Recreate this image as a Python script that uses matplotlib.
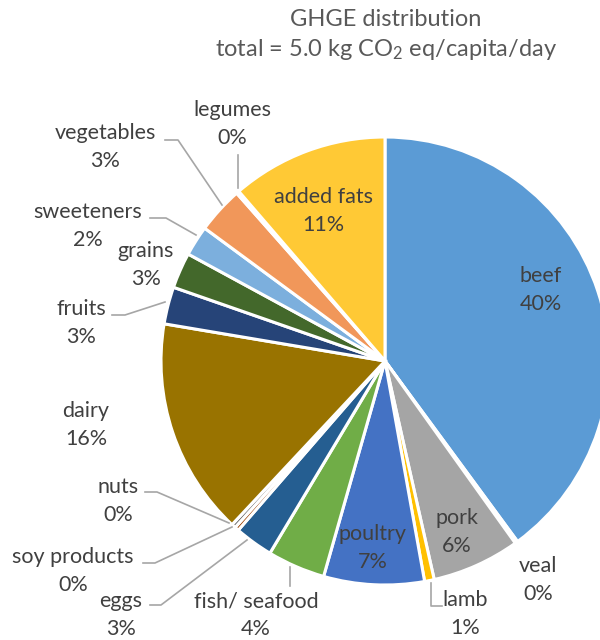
import matplotlib.pyplot as plt

plt.rcParams['font.family'] = ['Lato', 'DejaVu Sans']
plt.rcParams['mathtext.fontset'] = 'custom'
plt.rcParams['mathtext.rm'] = 'Lato'
plt.rcParams['mathtext.it'] = 'Lato:italic'

# Share of GHGE per food group (%), clockwise from 12 o'clock
foods = ['beef', 'veal', 'pork', 'lamb', 'poultry', 'fish/ seafood', 'eggs',
         'soy products', 'nuts', 'dairy', 'fruits', 'grains', 'sweeteners',
         'vegetables', 'legumes', 'added fats']
shares = [40.2, 0.2, 6.4, 0.7, 7.3, 4.2, 2.8, 0.3, 0.3, 15.8, 2.7, 2.6, 2.2,
          3.4, 0.2, 11.4]
colors = ['#5B9BD5', '#ED7D31', '#A5A5A5', '#FFC000', '#4472C4', '#70AD47',
          '#255E91', '#9E480E', '#636363', '#997300', '#264478', '#43682B',
          '#7CAFDD', '#F1975A', '#B7B7B7', '#FFC935']

H = 640  # figure height in px, used to flip pixel y

# label centre (px) and optional leader line points (px)
label_pos = {
    'beef': (541, 290), 'veal': (538, 580), 'pork': (457, 532),
    'lamb': (465, 614), 'poultry': (373, 548), 'fish/ seafood': (256, 615),
    'eggs': (121, 615), 'soy products': (73, 571), 'nuts': (118, 501),
    'dairy': (86, 425), 'fruits': (81, 323), 'grains': (146, 265),
    'sweeteners': (88, 226), 'vegetables': (105, 147), 'legumes': (232, 124),
    'added fats': (323, 211),
}
leaders = {
    'lamb': [(431, 583), (431, 606), (442, 606)],
    'fish/ seafood': [(290, 567), (290, 586)],
    'eggs': [(150, 605), (161, 605), (247, 540)],
    'soy products': [(143, 563), (155, 563), (232, 527)],
    'nuts': [(145, 492), (157, 492), (229, 523)],
    'fruits': [(112, 315), (125, 315), (165, 302)],
    'sweeteners': [(150, 218), (166, 218), (196, 235)],
    'vegetables': [(165, 140), (178, 140), (222, 205)],
    'legumes': [(238, 155), (238, 188)],
}

fig = plt.figure(figsize=(6, 6.4), dpi=100)
ax = fig.add_axes([0, 0, 1, 1])

ax.pie(shares, colors=colors, startangle=90, counterclock=False,
       center=(385, H - 361), radius=224,
       wedgeprops=dict(edgecolor='white', linewidth=2.2))
ax.set_xlim(0, 600)
ax.set_ylim(0, H)
ax.set_aspect('equal')
ax.axis('off')

total = sum(shares)
for name, val in zip(foods, shares):
    x, y = label_pos[name]
    ax.text(x, H - y, f"{name}\n{round(val / total * 100):.0f}%",
            ha='center', va='center', fontsize=15.5, color='#404040',
            linespacing=1.5)
    if name in leaders:
        pts = leaders[name]
        ax.plot([p[0] for p in pts], [H - p[1] for p in pts],
                color='#A6A6A6', linewidth=1.2)

ax.text(386, H - 19, 'GHGE distribution', ha='center', va='center',
        fontsize=17, color='#595959')
ax.text(386, H - 50, r'total = 5.0 kg CO$_2$ eq/capita/day', ha='center',
        va='center', fontsize=17, color='#595959')

plt.savefig('out.png', dpi=100)
